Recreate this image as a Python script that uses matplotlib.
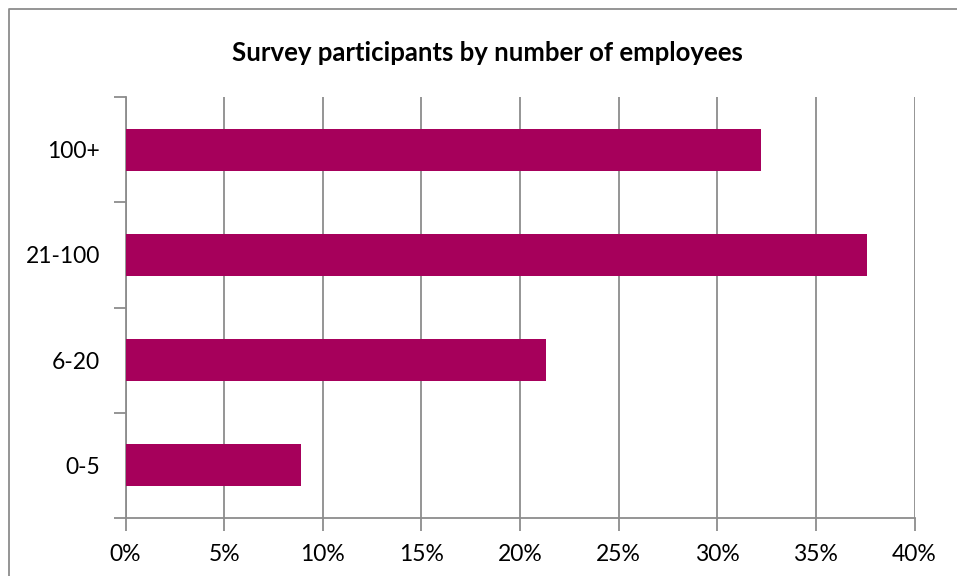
import matplotlib
matplotlib.use('Agg')
from matplotlib import pyplot as plt
from matplotlib.lines import Line2D

plt.rcParams['font.family'] = ['Lato', 'DejaVu Sans']

categories = ['0-5', '6-20', '21-100', '100+']
shares = [8.9, 21.3, 37.6, 32.2]
xticks = [0, 5, 10, 15, 20, 25, 30, 35, 40]
xlabels = ['0%', '5%', '10%', '15%', '20%', '25%', '30%', '35%', '40%']

grey = '#8c8c8c'

fig = plt.figure(figsize=(9.57, 5.76), dpi=100)
ax = fig.add_axes([125.5/957, 1-518/576, (914.5-125.5)/957, (518-97)/576])

ypos = list(range(len(categories)))
ax.barh(ypos, shares, height=0.4, color='#A6005B', zorder=3)

ax.set_xlim(0, 40)
ax.set_ylim(-0.5, len(categories) - 0.5)
ax.set_xticks(xticks)
ax.set_xticklabels(xlabels)
ax.set_yticks(ypos)
ax.set_yticklabels(categories)
ax.set_yticks([p - 0.5 for p in ypos] + [len(categories) - 0.5], minor=True)

ax.grid(axis='x', color=grey, linewidth=1.3, zorder=0)
for s in ['top', 'right']:
    ax.spines[s].set_visible(False)
for s in ['left', 'bottom']:
    ax.spines[s].set_color(grey)
    ax.spines[s].set_linewidth(1.3)

ax.tick_params(axis='x', length=9, width=1.3, color=grey, labelsize=16.5, pad=10)
ax.tick_params(axis='y', which='major', length=0, labelsize=16.5, pad=18.5)
ax.tick_params(axis='y', which='minor', length=9, width=1.3, color=grey)

fig.text(487/957, 1-53/576, 'Survey participants by number of employees',
         ha='center', va='center', fontsize=18.5, fontweight='bold')

# chart frame (only left and top edges visible in the crop)
fig.add_artist(Line2D([8.5/957, 8.5/957, 1.0], [0.0, 1-9/576, 1-9/576],
                      transform=fig.transFigure, color=grey, linewidth=1.3))

fig.savefig('out.png', dpi=100)
